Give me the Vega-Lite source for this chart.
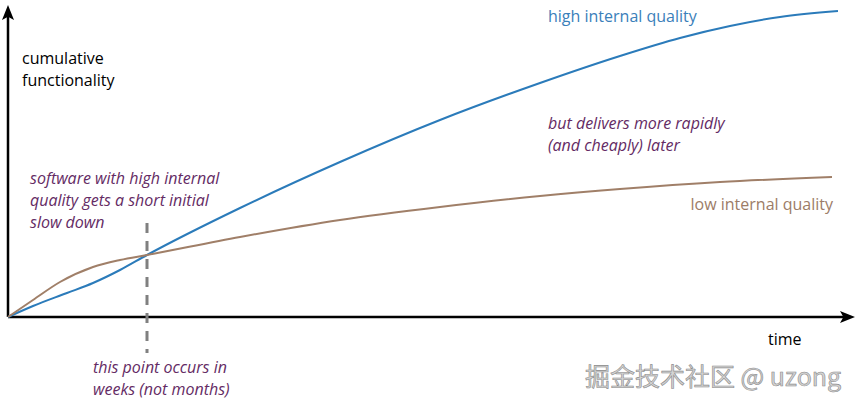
{
  "$schema": "https://vega.github.io/schema/vega-lite/v6.json",
  "width": 857,
  "height": 406,
  "autosize": {"type": "fit", "contains": "padding"},
  "padding": 0,
  "background": "white",
  "config": {"view": {"stroke": null}, "font": "Open Sans"},
  "encoding": {
    "x": {"field": "t", "type": "quantitative", "scale": {"domain": [-8, 849], "nice": false, "zero": false}, "axis": null},
    "y": {"field": "f", "type": "quantitative", "scale": {"domain": [-89, 317], "nice": false, "zero": false}, "axis": null}
  },
  "layer": [
    {
      "data": {"values": [
        {"axis": "time", "t": 0, "t2": 842, "f": 0, "f2": 0},
        {"axis": "functionality", "t": 0, "t2": 0, "f": 0, "f2": 303}
      ]},
      "mark": {"type": "rule", "color": "#000000", "strokeWidth": 2.5},
      "encoding": {"x2": {"field": "t2"}, "y2": {"field": "f2"}}
    },
    {
      "data": {"values": [
        {"axis": "functionality", "t": 0, "f": 304.5}
      ]},
      "mark": {"type": "point", "filled": true, "color": "#000000", "opacity": 1, "size": 225, "shape": "M0,-1 L0.8,1 L0,0.55 L-0.8,1 Z"}
    },
    {
      "data": {"values": [
        {"axis": "time", "t": 839.5, "f": 0}
      ]},
      "mark": {"type": "point", "filled": true, "color": "#000000", "opacity": 1, "size": 225, "shape": "M1,0 L-1,-0.8 L-0.55,0 L-1,0.8 Z"}
    },
    {
      "data": {"values": [
        {"note": "crossover", "t": 139, "f": 94, "f2": -36}
      ]},
      "mark": {"type": "rule", "color": "#808080", "strokeWidth": 3, "strokeDash": [10, 8]},
      "encoding": {"y2": {"field": "f2"}}
    },
    {
      "data": {"values": [
        {"series": "high internal quality", "t": 0, "f": 0},
        {"series": "high internal quality", "t": 25, "f": 11},
        {"series": "high internal quality", "t": 59, "f": 24},
        {"series": "high internal quality", "t": 85, "f": 34},
        {"series": "high internal quality", "t": 112, "f": 47},
        {"series": "high internal quality", "t": 139, "f": 62},
        {"series": "high internal quality", "t": 232, "f": 109},
        {"series": "high internal quality", "t": 332, "f": 155},
        {"series": "high internal quality", "t": 432, "f": 197},
        {"series": "high internal quality", "t": 532, "f": 234},
        {"series": "high internal quality", "t": 612, "f": 261},
        {"series": "high internal quality", "t": 672, "f": 279},
        {"series": "high internal quality", "t": 722, "f": 291},
        {"series": "high internal quality", "t": 772, "f": 300},
        {"series": "high internal quality", "t": 830, "f": 306},
        {"series": "low internal quality", "t": 0, "f": 0},
        {"series": "low internal quality", "t": 25, "f": 17},
        {"series": "low internal quality", "t": 52, "f": 35},
        {"series": "low internal quality", "t": 85, "f": 50},
        {"series": "low internal quality", "t": 112, "f": 57},
        {"series": "low internal quality", "t": 139, "f": 62},
        {"series": "low internal quality", "t": 232, "f": 80},
        {"series": "low internal quality", "t": 332, "f": 97},
        {"series": "low internal quality", "t": 432, "f": 110},
        {"series": "low internal quality", "t": 532, "f": 121},
        {"series": "low internal quality", "t": 612, "f": 128},
        {"series": "low internal quality", "t": 712, "f": 135},
        {"series": "low internal quality", "t": 824, "f": 140}
      ]},
      "mark": {"type": "line", "interpolate": "monotone", "strokeWidth": 2},
      "encoding": {
        "color": {"field": "series", "type": "nominal", "legend": null,
          "scale": {"domain": ["high internal quality", "low internal quality"], "range": ["#2b7bba", "#a07f68"]}}
      }
    },
    {
      "data": {"values": [
        {"kind": "axis", "t": 14, "f": 253, "label": "cumulative\nfunctionality"},
        {"kind": "axis", "t": 760, "f": -28, "label": "time"}
      ]},
      "mark": {"type": "text", "align": "left", "baseline": "alphabetic", "fontSize": 16, "lineBreak": "\n", "lineHeight": 22, "color": "#000000"},
      "encoding": {"text": {"field": "label"}}
    },
    {
      "data": {"values": [
        {"kind": "high", "t": 540, "f": 295, "label": "high internal quality"}
      ]},
      "mark": {"type": "text", "align": "left", "baseline": "alphabetic", "fontSize": 16, "color": "#3a80ba"},
      "encoding": {"text": {"field": "label"}}
    },
    {
      "data": {"values": [
        {"kind": "low", "t": 825, "f": 107, "label": "low internal quality"}
      ]},
      "mark": {"type": "text", "align": "right", "baseline": "alphabetic", "fontSize": 16, "color": "#9c7c67"},
      "encoding": {"text": {"field": "label"}}
    },
    {
      "data": {"values": [
        {"kind": "note", "t": 540, "f": 188, "label": "but delivers more rapidly\n(and cheaply) later"},
        {"kind": "note", "t": 22, "f": 133, "label": "software with high internal\nquality gets a short initial\nslow down"},
        {"kind": "note", "t": 85, "f": -56, "label": "this point occurs in\nweeks (not months)"}
      ]},
      "mark": {"type": "text", "align": "left", "baseline": "alphabetic", "fontSize": 16, "fontStyle": "italic", "lineBreak": "\n", "lineHeight": 22, "color": "#642b64"},
      "encoding": {"text": {"field": "label"}}
    },
    {
      "data": {"values": [
        {"kind": "watermark", "t": 577, "f": -69, "label": "掘金技术社区 @ uzong"}
      ]},
      "mark": {"type": "text", "align": "left", "baseline": "alphabetic", "fontSize": 25, "font": "Noto Sans CJK SC", "color": "#d4d4d4", "stroke": "#8a8a8a", "strokeWidth": 0.6},
      "encoding": {"text": {"field": "label"}}
    }
  ]
}
